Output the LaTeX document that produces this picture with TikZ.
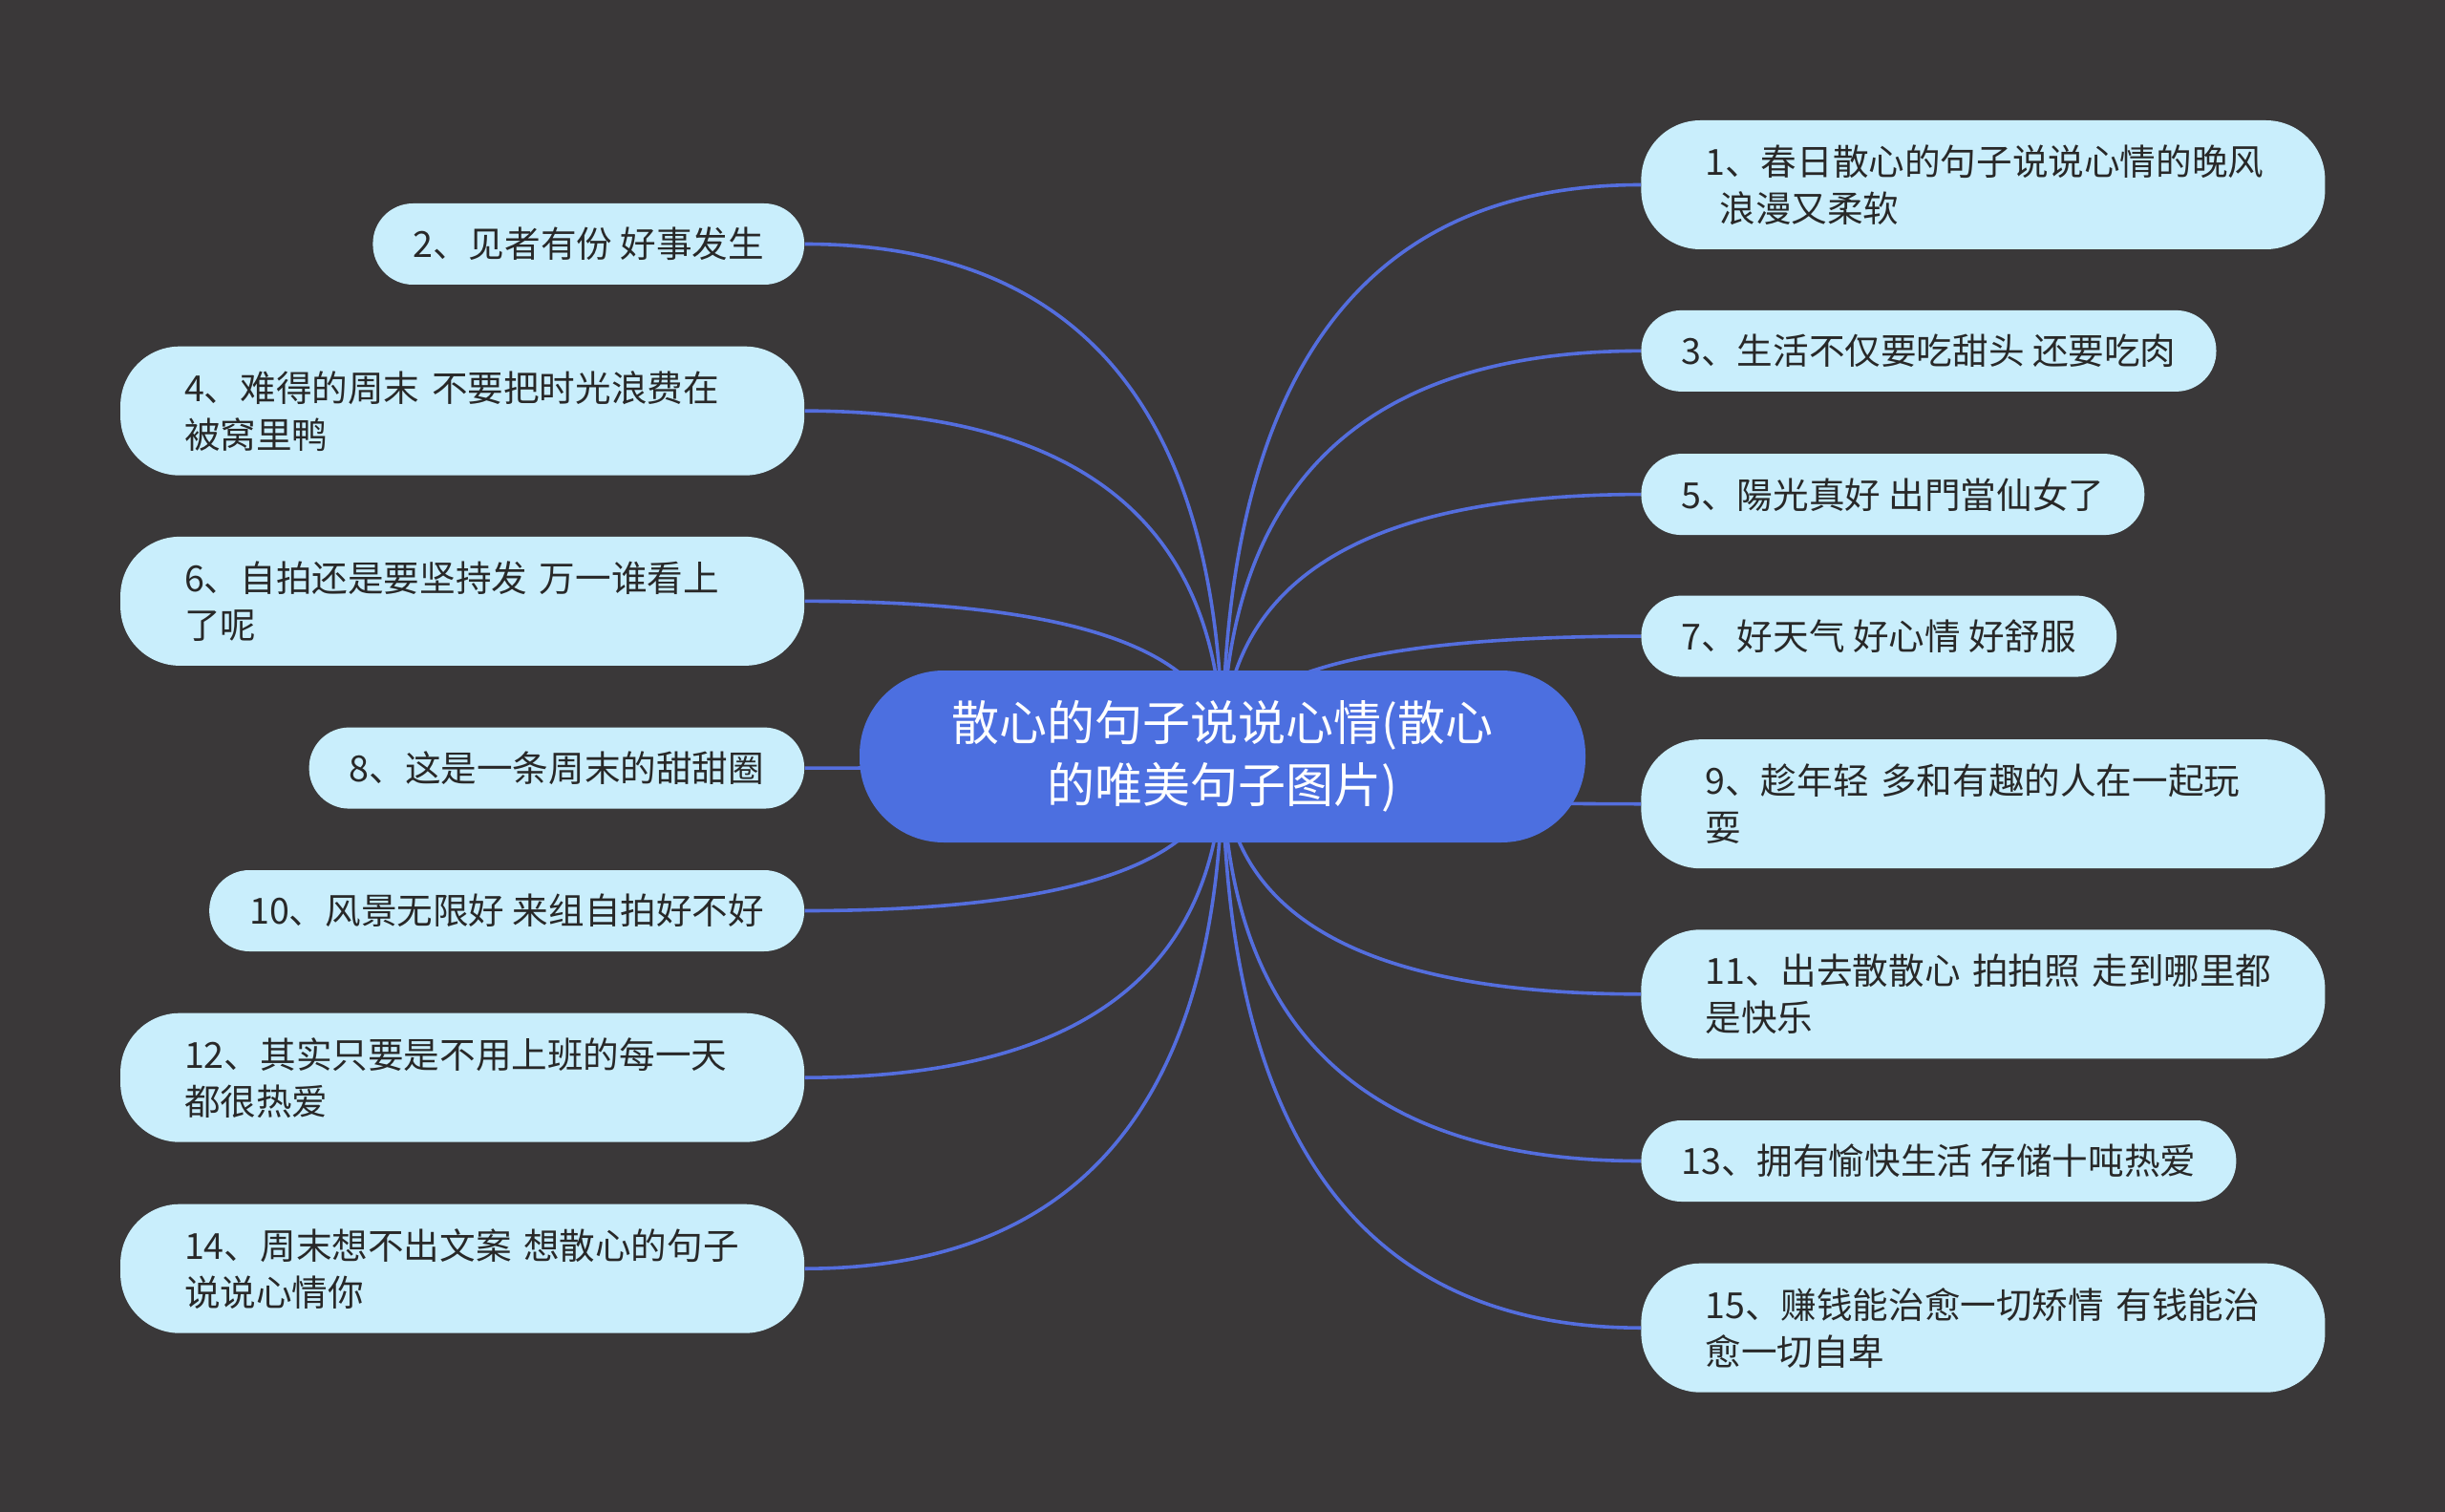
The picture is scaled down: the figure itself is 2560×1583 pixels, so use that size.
\documentclass[tikz,border=0pt]{standalone}
\usepackage{fontspec}
\newfontfamily\cjk{Noto Sans CJK SC}
\usetikzlibrary{calc}
\definecolor{bgdark}{RGB}{58,56,57}
\definecolor{rootblue}{RGB}{76,111,224}
\definecolor{linkblue}{RGB}{84,110,222}
\definecolor{leafcyan}{RGB}{201,238,252}
\definecolor{textdark}{RGB}{40,40,40}

\tikzset{
  leaf/.style={fill=leafcyan, text=textdark, rounded corners=21pt, inner xsep=21pt, inner ysep=0pt,
    minimum height=42.5pt, font=\cjk\fontsize{18.8}{24.5}\selectfont},
  leaftwo/.style={leaf, rounded corners=31pt, inner xsep=33.5pt, minimum height=67.5pt,
    text width=291pt, align=left},
  root/.style={fill=rootblue, text=white, rounded corners=44pt, minimum width=380pt, minimum height=90pt,
    align=center, font=\cjk\fontsize{25}{32.5}\selectfont},
  link/.style={draw=linkblue, line width=1.8pt},
}

\begin{document}
\begin{tikzpicture}[x=0.5pt, y=-0.5pt]
  \useasboundingbox (0,0) rectangle (2560,1583);
  \fill[bgdark] (0,0) rectangle (2560,1583);

  \coordinate (c) at (1280,792);

  % right side
  \node[leaftwo, anchor=west] (n1) at (1718,193.5) {1、春日散心的句子说说心情的晚风\\\hspace{0.4em}浪漫又柔软};
  \node[leaf, anchor=west] (n3) at (1718,367.4) {3、生活不仅要吃甜头 还要吃肉};
  \node[leaf, anchor=west] (n5) at (1718,517.6) {5、陽光真好 出門當仙女了};
  \node[leaf, anchor=west] (n7) at (1718,666.1) {7、好天气 好心情 好舒服};
  \node[leaftwo, anchor=west] (n9) at (1718,841.7) {9、趁年轻~多和有趣的人在一起玩\\耍};
  \node[leaftwo, anchor=west] (n11) at (1718,1040.8) {11、出去散散心~拍拍照~走到哪里都\\是快乐};
  \node[leaf, anchor=west] (n13) at (1718,1215.5) {13、拥有愉快生活 存储十吨热爱};
  \node[leaftwo, anchor=west] (n15) at (1718,1390.2) {15、赚钱能治愈一切矫情~有钱能治\\愈一切自卑};

  % left side
  \node[leaf, anchor=east] (n2) at (842.5,255.5) {2、见者有份 好事发生};
  \node[leaftwo, anchor=east] (n4) at (842.5,430.2) {4、难得的周末~不要把时光浪费在\\被窝里鸭};
  \node[leaftwo, anchor=east] (n6) at (842.5,629.4) {6、自拍还是要坚持发~万一谁看上\\了呢};
  \node[leaf, anchor=east] (n8) at (842.5,804.1) {8、这是一条周末的甜甜圈};
  \node[leaf, anchor=east] (n10) at (842.5,953.5) {10、风景无限好 来组自拍好不好};
  \node[leaftwo, anchor=east] (n12) at (842.5,1128.2) {12、其实只要是不用上班的每一天\\都很热爱};
  \node[leaftwo, anchor=east] (n14) at (842.5,1328.2) {14、周末想不出文案~想散心的句子\\说说心情你};

  % links (quadratic bends written as cubics)
  \foreach \n in {n1,n3,n5,n7,n9,n11,n13,n15}
    \draw[link] (c) .. controls ($(c)!0.6667!(c |- \n.west)$) and ($(\n.west)!0.6667!(c |- \n.west)$) .. (\n.west);
  \foreach \n in {n2,n4,n6,n8,n10,n12,n14}
    \draw[link] (c) .. controls ($(c)!0.6667!(c |- \n.east)$) and ($(\n.east)!0.6667!(c |- \n.east)$) .. (\n.east);

  \node[root] (root) at (c) {散心的句子说说心情(散心\\的唯美句子图片)};
\end{tikzpicture}
\end{document}
